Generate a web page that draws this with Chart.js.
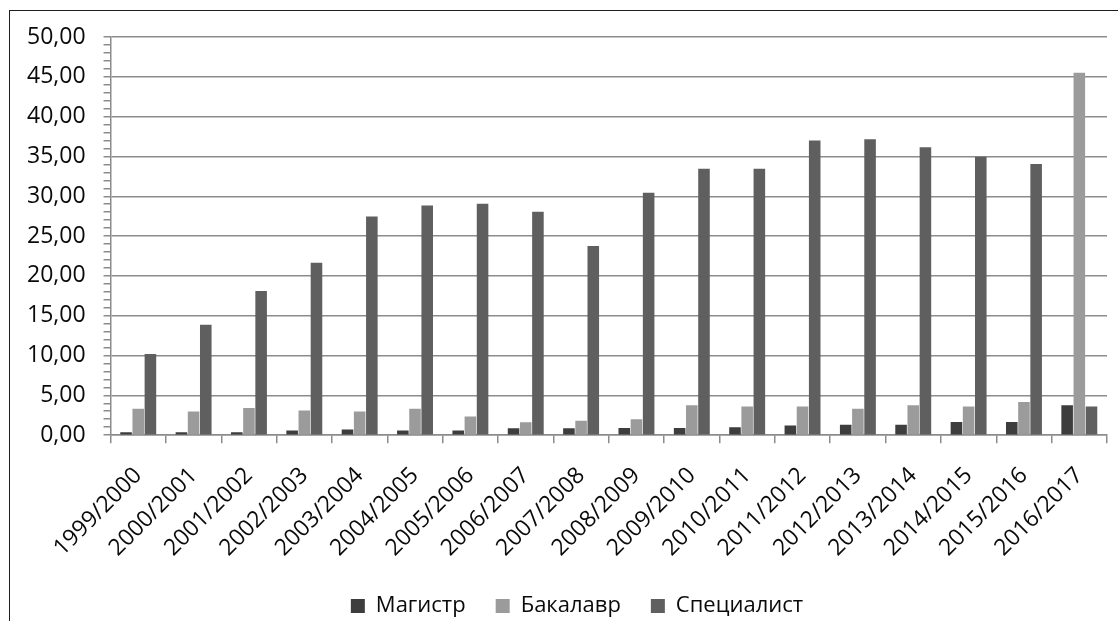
<!DOCTYPE html>
<html>
<head>
<meta charset="utf-8">
<script src="https://cdn.jsdelivr.net/npm/chart.js@4/dist/chart.umd.min.js"></script>
<style>
  html, body { margin: 0; padding: 0; background: #ffffff; overflow: hidden; }
  #wrap { position: relative; width: 1118px; height: 621px; overflow: hidden; }
  #frame { position: absolute; left: 9px; top: 10px; right: 0; bottom: 0;
           border-left: 1.5px solid #1e1e1e; border-top: 1.5px solid #1e1e1e; pointer-events: none; }
  canvas { position: absolute; left: 0; top: 0; }
</style>
</head>
<body>
<div id="wrap">
  <canvas id="c" width="1156" height="627"></canvas>
  <div id="frame"></div>
</div>
<script>
const categories = ['1999/2000','2000/2001','2001/2002','2002/2003','2003/2004','2004/2005',
  '2005/2006','2006/2007','2007/2008','2008/2009','2009/2010','2010/2011','2011/2012',
  '2012/2013','2013/2014','2014/2015','2015/2016','2016/2017'];
const seriesNames = ['Магистр', 'Бакалавр', 'Специалист'];
const magistr    = [0.35,0.35,0.35,0.57,0.70,0.57,0.57,0.86,0.86,0.90,0.90,1.00,1.20,1.30,1.30,1.65,1.65,3.75];
const bakalavr   = [3.30,2.96,3.42,3.08,2.96,3.30,2.35,1.61,1.82,2.00,3.75,3.60,3.60,3.30,3.75,3.60,4.15,45.50];
const specialist = [10.20,13.85,18.10,21.65,27.45,28.85,29.05,28.05,23.75,30.45,33.45,33.45,37.00,37.15,36.15,34.95,34.05,3.60];
const yMin = 0, yMax = 50, yMajorStep = 5, yMinorStep = 1;

const FONT = "'Open Sans', 'DejaVu Sans', sans-serif";
const GRID = '#8c8c8c';
const TEXT = '#0a0a0a';

new Chart(document.getElementById('c'), {
  type: 'bar',
  data: {
    labels: categories,
    datasets: [
      { label: seriesNames[0], data: magistr,    backgroundColor: '#3d3d3d' },
      { label: seriesNames[1], data: bakalavr,   backgroundColor: '#9b9b9b' },
      { label: seriesNames[2], data: specialist, backgroundColor: '#5f5f5f' }
    ]
  },
  options: {
    responsive: false,
    animation: false,
    devicePixelRatio: 1,
    datasets: { bar: { categoryPercentage: 0.66, barPercentage: 0.95, borderWidth: 0 } },
    layout: { padding: { left: 9, right: 11, top: 37, bottom: 0 } },
    plugins: {
      tooltip: { enabled: false },
      legend: {
        position: 'bottom',
        labels: {
          font: { family: FONT, size: 22 },
          color: TEXT,
          boxWidth: 14, boxHeight: 14,
          padding: 30
        }
      }
    },
    scales: {
      x: {
        grid: { display: true, drawOnChartArea: false, offset: true, tickLength: 8, color: GRID, lineWidth: 1.5 },
        border: { color: GRID, width: 1.5 },
        ticks: {
          font: { family: FONT, size: 23 },
          color: TEXT,
          minRotation: 45, maxRotation: 45,
          autoSkip: false,
          padding: 19
        },
        afterFit: (scale) => { scale.height -= 16; }
      },
      y: {
        min: yMin, max: yMax,
        grid: {
          color: (ctx) => (ctx.tick && ctx.tick.value % yMajorStep === 0) ? GRID : 'rgba(0,0,0,0)',
          tickColor: GRID,
          lineWidth: 1.5,
          tickLength: 7
        },
        border: { color: GRID, width: 1.5 },
        ticks: {
          stepSize: yMinorStep,
          autoSkip: false,
          padding: 18,
          font: { family: FONT, size: 23 },
          color: TEXT,
          callback: (v) => (v % yMajorStep === 0) ? v.toFixed(2).replace('.', ',') : ''
        }
      },
      yRightSpace: {
        position: 'right',
        grid: { display: false },
        border: { display: false },
        ticks: { display: false },
        afterFit: (scale) => { scale.width = 38; }
      }
    }
  }
});
</script>
</body>
</html>
